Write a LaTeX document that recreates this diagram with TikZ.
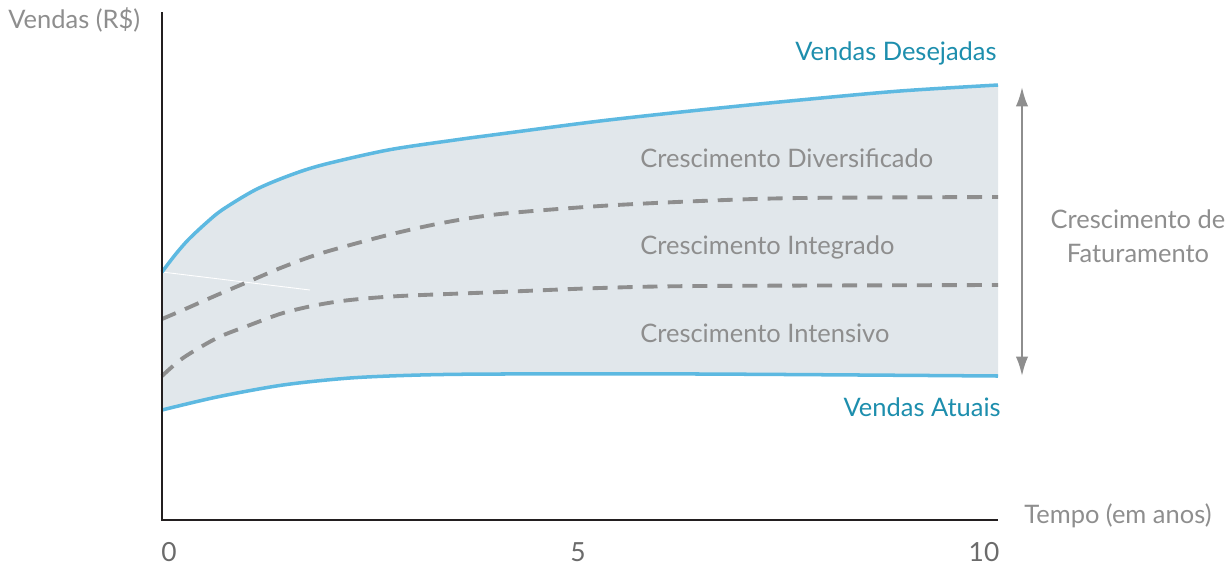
\documentclass[tikz,border=0pt]{standalone}
\usepackage{fontspec}
\setmainfont{Lato}
\usetikzlibrary{positioning,arrows.meta}
\definecolor{linha}{HTML}{5DB9E1}
\definecolor{faixa}{HTML}{E1E7EB}
\definecolor{tracejado}{HTML}{8E8E8E}
\definecolor{rotulo}{HTML}{8E8E8E}
\definecolor{destaque}{HTML}{1D8EAD}
\definecolor{eixo}{HTML}{231F20}
\tikzset{
	eixo/.style    = {draw = eixo, line width = 1.3pt},
	curva/.style   = {draw = linha, line width = 2pt},
	meta/.style    = {draw = tracejado, line width = 2.2pt, dash pattern = on 8.5pt off 5.7pt},
	faixa/.style   = {fill = faixa},
	texto/.style   = {text = rotulo, font = \fontsize{14.5}{19.5}\selectfont, inner sep = 0pt},
	serie/.style   = {text = destaque, font = \fontsize{14.5}{19.5}\selectfont, inner sep = 0pt},
	marca/.style   = {text = rotulo!75!black, font = \fontsize{15}{18}\selectfont, inner sep = 0pt},
	seta/.style    = {draw = tracejado, line width = 1.2pt, {Latex[length=11pt,width=7pt]}-{Latex[length=11pt,width=7pt]}}
}
\newcommand{\desejadas}{(162,272) (175,255) (188,240) (205,224) (222,210) (255,190) (288,176) (322,165) (388,150) (455,140) (500,134) (600,121) (700,110) (800,100) (900,91) (998,85)}
\newcommand{\atuais}{(998,376) (700,374) (500,374) (420,375) (350,378) (283,385) (217,397) (162,410)}

\begin{document}
\begin{tikzpicture}[x = 0.02cm, y = -0.02cm]
	\useasboundingbox (0,0) rectangle (1228,566);
	% faixa entre as curvas
	\fill[faixa] plot[smooth] coordinates {\desejadas} -- plot[smooth] coordinates {\atuais} -- cycle;
	\draw[white, line width = 0.5pt] (162,272) -- (310,290);
	% curvas tracejadas
	\draw[meta] plot[smooth] coordinates {(162,319) (183,310) (217,295) (250,281) (283,267) (322,253) (388,235) (442,223) (500,214) (600,206) (700,201) (800,198) (998,197)};
	\draw[meta] plot[smooth] coordinates {(162,376) (183,358) (217,338) (250,325) (283,313) (317,305) (350,300) (400,296) (500,292) (600,288) (700,286) (998,285)};
	% curvas de vendas
	\draw[curva] plot[smooth] coordinates {\desejadas};
	\draw[curva] plot[smooth] coordinates {\atuais};
	% eixos
	\coordinate (origem) at (162,520);
	\coordinate (topo) at (162,12);
	\coordinate (fim) at (998,520);
	\draw[eixo] (topo) -- (origem) -- (fim);
	% seta de crescimento
	\coordinate (setaA) at (1022,87);
	\coordinate (setaB) at (1022,376);
	\draw[seta] (setaA) -- (setaB);
	% textos
	\node[texto, anchor = west] (vendas) at (8,20) {Vendas (R\$)};
	\node[texto, anchor = west] (tempo) at (1024,516) {Tempo (em anos)};
	\node[serie, anchor = east] (desej) at (997,53) {Vendas Desejadas};
	\node[serie, anchor = east] (atual) at (1001,407) {Vendas Atuais};
	\node[texto, anchor = west] (divers) at (640,158) {Crescimento Diversificado};
	\node[texto, anchor = west] (integ) at (640,247) {Crescimento Integrado};
	\node[texto, anchor = west] (inten) at (640,333) {Crescimento Intensivo};
	\node[texto, align = center] (fatur) at (1138,236) {Crescimento de\\Faturamento};
	\node[marca] (t0) at (169,552) {0};
	\node[marca] (t5) at (578,552) {5};
	\node[marca] (t10) at (984,552) {10};
\end{tikzpicture}
\end{document}
